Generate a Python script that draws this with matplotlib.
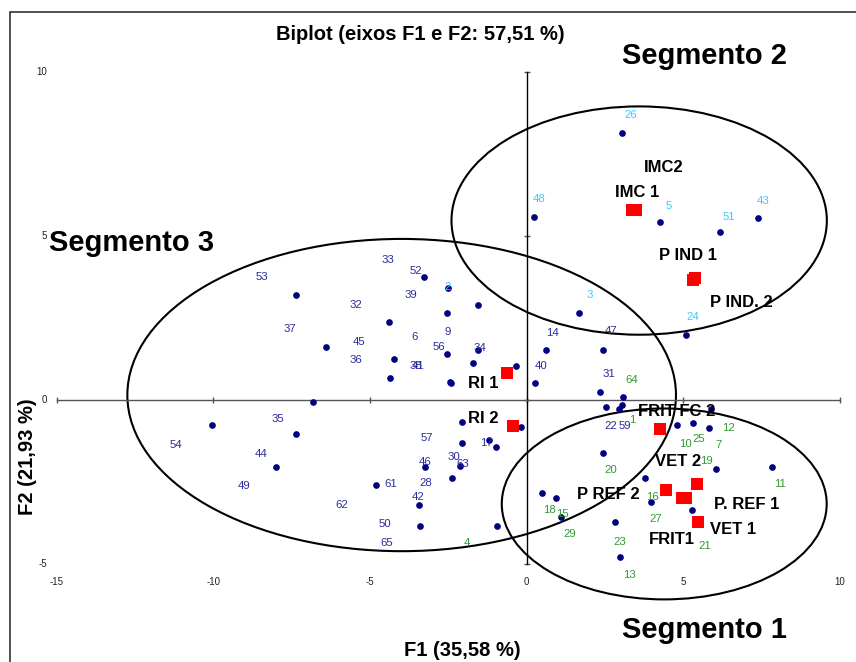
import matplotlib
matplotlib.use("Agg")
import matplotlib.pyplot as plt
from matplotlib.patches import Ellipse, Rectangle
from matplotlib import transforms

plt.rcParams['font.family'] = ['Liberation Sans', 'DejaVu Sans']

# ---------------- data ----------------
title = "Biplot (eixos F1 e F2: 57,51 %)"
xlabel = "F1 (35,58 %)"
ylabel = "F2 (21,93 %)"

x_ticks = [-15, -10, -5, 0, 5, 10]
y_ticks = [-5, 0, 5, 10]
x_tick_labels = ["-15", "-10", "-5", "0", "5", "10"]
y_tick_labels = ["-5", "0", "5", "10"]

# observation points (F1, F2)
obs_x = [3.03, 0.22, 4.24, 6.17, 7.37, 1.67, 5.10, -7.36, -4.39, -6.42,
         -4.23, -4.35, -3.29, -2.50, -1.54, -2.53, -2.53, -1.54, -1.70, -0.35,
         -2.45, -2.40, 0.61, 0.27, -6.83, -10.05, -7.37, -7.99, -4.81, -3.45,
         -3.40, -3.23, -2.08, -0.18, -2.08, -1.21, -0.98, -2.13, -2.37, -0.94,
         0.48, 2.42, 2.34, 3.08, 2.54, 3.03, 2.95, 4.81, 5.31, 5.81,
         5.88, 2.42, 6.05, 7.83, 3.78, 0.93, 3.98, 5.27, 1.10, 2.83, 2.99]
obs_y = [8.16, 5.59, 5.44, 5.12, 5.56, 2.67, 2.00, 3.21, 2.39, 1.62,
         1.27, 0.68, 3.76, 3.41, 2.90, 2.66, 1.42, 1.52, 1.15, 1.04,
         0.56, 0.53, 1.52, 0.53, -0.05, -0.76, -1.04, -2.04, -2.59, -3.18,
         -3.84, -2.04, -0.65, -0.80, -1.30, -1.21, -1.42, -2.01, -2.36, -3.83,
         -2.84, 1.54, 0.26, 0.10, -0.21, -0.14, -0.28, -0.76, -0.69, -0.84,
         -0.28, -1.62, -2.09, -2.04, -2.36, -2.98, -3.10, -3.33, -3.56, -3.72, -4.77]

# observation labels (text, position, segment)
seg2_labels = ["26", "48", "5", "51", "43", "2", "3", "24"]
seg2_lx = [3.31, 0.41, 4.52, 6.44, 7.55, -2.53, 2.00, 5.29]
seg2_ly = [8.71, 6.15, 5.91, 5.60, 6.09, 3.46, 3.22, 2.54]

seg3_labels = ["33", "53", "52", "39", "32", "37", "45", "36", "6", "9",
               "56", "34", "38", "41", "14", "47", "40", "31", "22", "59",
               "57", "17", "46", "30", "63", "61", "28", "42", "50", "65",
               "35", "54", "44", "49", "62"]
seg3_lx = [-4.42, -8.46, -3.55, -3.68, -5.45, -7.55, -5.36, -5.45, -3.57, -2.53,
           -2.81, -1.49, -3.53, -3.47, 0.83, 2.69, 0.47, 2.62, 2.68, 3.14,
           -3.18, -1.28, -3.23, -2.32, -2.04, -4.35, -3.23, -3.47, -4.53, -4.47,
           -7.93, -11.19, -8.47, -9.03, -5.90]
seg3_ly = [4.28, 3.76, 3.95, 3.22, 2.92, 2.16, 1.79, 1.24, 1.93, 2.07,
           1.61, 1.58, 1.05, 1.05, 2.05, 2.10, 1.04, 0.81, -0.79, -0.79,
           -1.15, -1.30, -1.87, -1.73, -1.93, -2.54, -2.52, -2.95, -3.77, -4.35,
           -0.56, -1.35, -1.63, -2.62, -3.18]

seg1_labels = ["64", "1", "4", "12", "25", "10", "7", "19", "11", "21",
               "20", "16", "18", "15", "29", "27", "23", "13"]
seg1_lx = [3.35, 3.36, -1.92, 6.43, 5.49, 5.06, 6.13, 5.73, 8.09, 5.69,
           2.68, 4.02, 0.72, 1.15, 1.36, 4.13, 2.98, 3.28]
seg1_ly = [0.63, -0.61, -4.35, -0.84, -1.18, -1.33, -1.35, -1.84, -2.55, -4.43,
           -2.11, -2.95, -3.33, -3.48, -4.07, -3.61, -4.32, -5.34]

# variables (red squares) and their labels
var_names = ["IMC 1", "IMC2", "P IND 1", "P IND. 2", "RI 1", "RI 2",
             "FRIT FC 2", "VET 2", "P REF 2", "P. REF 1", "VET 1", "FRIT1"]
var_x = [3.37, 3.50, 5.38, 5.32, -0.62, -0.43, 4.24, 5.45, 4.45, 5.09, 5.48, 4.96]
var_y = [5.79, 5.79, 3.74, 3.66, 0.84, -0.77, -0.89, -2.56, -2.72, -2.97, -3.71, -2.97]
var_lx = [3.52, 4.36, 5.16, 6.86, -1.38, -1.40, 4.77, 4.82, 2.59, 7.03, 6.60, 4.62]
var_ly = [6.35, 7.10, 4.41, 2.97, 0.51, -0.57, -0.35, -1.88, -2.88, -3.18, -3.94, -4.23]

# segment ellipses
seg_names = ["Segmento 1", "Segmento 2", "Segmento 3"]
ell_cx = [4.39, 3.59, -3.99]
ell_cy = [-3.16, 5.48, 0.16]
ell_w = [10.37, 11.98, 17.51]
ell_h = [5.82, 6.96, 9.52]
seg_lx = [5.68, 5.68, -12.6]
seg_ly = [-7.0, 10.5, 4.8]

# ---------------- figure ----------------
fig = plt.figure(figsize=(8.56, 6.62), dpi=100)
ax = fig.add_axes([0.06624, 0.14758, 0.91507, 0.74321])
ax.set_xlim(-15, 10)
ax.set_ylim(-5, 10)
ax.patch.set_alpha(0)

for s in ['top', 'right']:
    ax.spines[s].set_visible(False)
ax.spines['bottom'].set_position(('data', 0))
ax.spines['left'].set_position(('data', 0))
ax.spines['bottom'].set_color('#555555')
ax.spines['left'].set_color('#000000')
ax.spines['bottom'].set_linewidth(1.0)
ax.spines['left'].set_linewidth(1.0)
ax.set_xticks(x_ticks)
ax.set_yticks(y_ticks)
ax.tick_params(axis='x', direction='inout', length=5, width=1.0, color='#555555',
               labelbottom=False)
ax.tick_params(axis='y', direction='inout', length=5, width=1.0, color='#555555',
               labelleft=False)

# tick labels at the "low" position
xt = transforms.offset_copy(ax.transData, fig=fig, x=0, y=-18, units='dots')
for t, lab in zip(x_ticks, x_tick_labels):
    ax.text(t, -5, lab, transform=xt, ha='center', va='center', fontsize=7,
            color='#222222')
yt = transforms.offset_copy(ax.transData, fig=fig, x=-10, y=0, units='dots')
for t, lab in zip(y_ticks, y_tick_labels):
    ax.text(-15, t, lab, transform=yt, ha='right', va='center', fontsize=7,
            color='#222222')

# ellipses
for cx, cy, w, h in zip(ell_cx, ell_cy, ell_w, ell_h):
    ax.add_patch(Ellipse((cx, cy), w, h, fill=False, edgecolor='black',
                         linewidth=1.5, clip_on=False, zorder=2))

# observation points
ax.plot(obs_x, obs_y, 'o', color='#000080', markersize=3.8, linestyle='none',
        zorder=3, clip_on=False)

# observation labels
for labs, lx, ly, col in [(seg3_labels, seg3_lx, seg3_ly, '#2b2b9e'),
                          (seg2_labels, seg2_lx, seg2_ly, '#33ccff'),
                          (seg1_labels, seg1_lx, seg1_ly, '#2f9a2f')]:
    for t, x, y in zip(labs, lx, ly):
        ax.text(x, y, t, color=col, fontsize=8.2, ha='center', va='center', zorder=4)

# variables
ax.plot(var_x, var_y, 's', color='#ff0000', markersize=8.3, markeredgewidth=0,
        linestyle='none', zorder=5)
for t, x, y in zip(var_names, var_lx, var_ly):
    ax.text(x, y, t, color='black', fontsize=12, fontweight='bold',
            ha='center', va='center', zorder=6)

# segment titles
for t, x, y in zip(seg_names, seg_lx, seg_ly):
    ax.text(x, y, t, fontsize=21, fontweight='bold', ha='center', va='center',
            color='black', zorder=6)

# title and axis labels
fig.text(420 / 856, 1 - 34 / 662, title, fontsize=14.5, fontweight='bold',
         ha='center', va='center')
fig.text(462.5 / 856, 1 - 650 / 662, xlabel, fontsize=14.5, fontweight='bold',
         ha='center', va='center')
fig.text(28 / 856, 1 - 457 / 662, ylabel, fontsize=14.5, fontweight='bold',
         ha='center', va='center', rotation=90)

# outer frame (cut by the image edges)
fig.patches.append(Rectangle((10 / 856, -0.2), 2.0, 1.2 - 12 / 662 + 0.0,
                             transform=fig.transFigure, fill=False,
                             edgecolor='#222222', linewidth=1.1))

fig.savefig("out.png", dpi=100)
